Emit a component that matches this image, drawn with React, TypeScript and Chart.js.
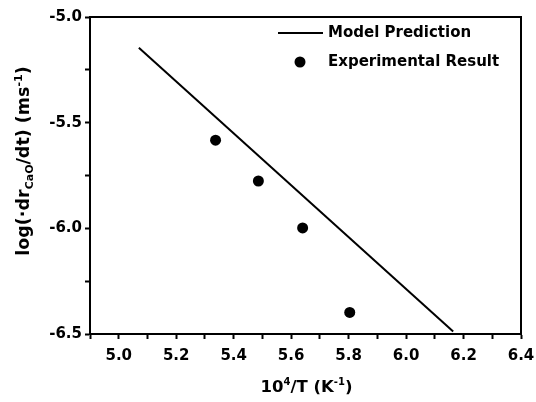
import React, { useEffect, useRef } from "react";
import { Chart, registerables } from "chart.js";

Chart.register(...registerables);

// ---- data ----
const modelX = [5.07, 6.164];
const modelY = [-5.146, -6.488];
const expX = [5.337, 5.486, 5.64, 5.804];
const expY = [-5.583, -5.776, -5.998, -6.398];
const seriesLabels = ["Model Prediction", "Experimental Result"];
const xMin = 4.9;
const xMax = 6.4;
const yMin = -6.5;
const yMax = -5.0;

const FONT = "'DejaVu Sans', sans-serif";

type Part = { t: string; sub?: boolean; sup?: boolean };

function drawRich(ctx: CanvasRenderingContext2D, parts: Part[], size: number, cx: number, cy: number) {
  const small = Math.round(size * 0.6);
  const widths = parts.map((p) => {
    ctx.font = `bold ${p.sub || p.sup ? small : size}px ${FONT}`;
    return ctx.measureText(p.t).width;
  });
  const total = widths.reduce((a, b) => a + b, 0);
  let x = cx - total / 2;
  ctx.textAlign = "left";
  ctx.textBaseline = "alphabetic";
  const base = cy + size * 0.36;
  parts.forEach((p, i) => {
    ctx.font = `bold ${p.sub || p.sup ? small : size}px ${FONT}`;
    let y = base;
    if (p.sub) y = base + size * 0.22;
    if (p.sup) y = base - size * 0.42;
    ctx.fillText(p.t, x, y);
    x += widths[i];
  });
}

const decorPlugin = {
  id: "decor",
  afterDraw(chart: any) {
    const ctx: CanvasRenderingContext2D = chart.ctx;
    const a = chart.chartArea;
    ctx.save();
    // full frame
    ctx.strokeStyle = "#000";
    ctx.lineWidth = 2;
    ctx.strokeRect(a.left, a.top, a.right - a.left, a.bottom - a.top);

    ctx.fillStyle = "#000";
    // x title
    drawRich(
      ctx,
      [{ t: "10" }, { t: "4", sup: true }, { t: "/T (K" }, { t: "-1", sup: true }, { t: ")" }],
      16.5,
      (a.left + a.right) / 2 + 1,
      386
    );
    // y title
    ctx.save();
    ctx.translate(23, 161);
    ctx.rotate(-Math.PI / 2);
    drawRich(
      ctx,
      [
        { t: "log(·dr" },
        { t: "CaO", sub: true },
        { t: "/dt) (ms" },
        { t: "-1", sup: true },
        { t: ")" },
      ],
      17.5,
      0,
      0
    );
    ctx.restore();

    // legend inside plot
    const ds = chart.data.datasets;
    const lx = a.right - 243;
    ctx.font = `bold 15px ${FONT}`;
    ctx.textBaseline = "middle";
    ctx.textAlign = "left";
    // line item
    ctx.strokeStyle = "#000";
    ctx.lineWidth = 2;
    ctx.beginPath();
    ctx.moveTo(lx, 33);
    ctx.lineTo(lx + 45, 33);
    ctx.stroke();
    ctx.fillText(ds[0].label, lx + 50, 33);
    // point item
    ctx.beginPath();
    ctx.arc(lx + 22, 62, 5.5, 0, Math.PI * 2);
    ctx.fill();
    ctx.fillText(ds[1].label, lx + 50, 62);
    ctx.restore();
  },
};

export default function App() {
  const ref = useRef<HTMLCanvasElement | null>(null);

  useEffect(() => {
    document.body.style.margin = "0";
    document.body.style.background = "#fff";
    if (!ref.current) return;
    const chart = new Chart(ref.current, {
      type: "scatter",
      data: {
        datasets: [
          {
            label: seriesLabels[0],
            data: modelX.map((x, i) => ({ x, y: modelY[i] })),
            showLine: true,
            borderColor: "#000",
            borderWidth: 2,
            pointRadius: 0,
            fill: false,
          },
          {
            label: seriesLabels[1],
            data: expX.map((x, i) => ({ x, y: expY[i] })),
            showLine: false,
            backgroundColor: "#000",
            borderColor: "#000",
            borderWidth: 0,
            pointRadius: 5.5,
          },
        ],
      },
      options: {
        animation: false,
        responsive: false,
        maintainAspectRatio: false,
        events: [],
        layout: { padding: { top: 17, right: 15, left: 0, bottom: 0 } },
        plugins: {
          legend: { display: false },
          tooltip: { enabled: false },
          title: { display: false },
        },
        scales: {
          x: {
            type: "linear",
            min: xMin,
            max: xMax,
            afterFit: (s: any) => {
              s.height = 68;
              s.paddingLeft = 0;
              s.paddingRight = 0;
            },
            afterBuildTicks: (s: any) => {
              const t = [];
              for (let i = 0; i <= Math.round((xMax - xMin) * 10); i++) {
                t.push({ value: Math.round((xMin + i * 0.1) * 10) / 10 });
              }
              s.ticks = t;
            },
            ticks: {
              autoSkip: false,
              maxRotation: 0,
              padding: 8,
              color: "#000",
              font: { family: FONT, size: 15, weight: "bold" },
              callback: (v: any) => {
                const n = Math.round(Number(v) * 10);
                return n % 2 === 0 ? (n / 10).toFixed(1) : "";
              },
            },
            grid: {
              display: true,
              drawOnChartArea: false,
              drawTicks: true,
              tickLength: 5,
              tickWidth: 2,
              tickColor: "#000",
            },
            border: { display: true, color: "#000", width: 2 },
          },
          y: {
            type: "linear",
            min: yMin,
            max: yMax,
            afterFit: (s: any) => {
              s.width = 90;
              s.paddingTop = 0;
              s.paddingBottom = 0;
            },
            afterBuildTicks: (s: any) => {
              const t = [];
              for (let i = 0; i <= Math.round((yMax - yMin) * 4); i++) {
                t.push({ value: Math.round((yMin + i * 0.25) * 100) / 100 });
              }
              s.ticks = t;
            },
            ticks: {
              autoSkip: false,
              padding: 3,
              color: "#000",
              font: { family: FONT, size: 15, weight: "bold" },
              callback: (v: any) => {
                const n = Math.round(Number(v) * 4);
                return n % 2 === 0 ? (n / 4).toFixed(1) : "";
              },
            },
            grid: {
              display: true,
              drawOnChartArea: false,
              drawTicks: true,
              tickLength: 5,
              tickWidth: 2,
              tickColor: "#000",
            },
            border: { display: true, color: "#000", width: 2 },
          },
        },
      },
      plugins: [decorPlugin],
    });
    return () => chart.destroy();
  }, []);

  return (
    <div style={{ width: 536, height: 402, background: "#fff" }}>
      <canvas ref={ref} width={536} height={402} style={{ display: "block" }} />
    </div>
  );
}
